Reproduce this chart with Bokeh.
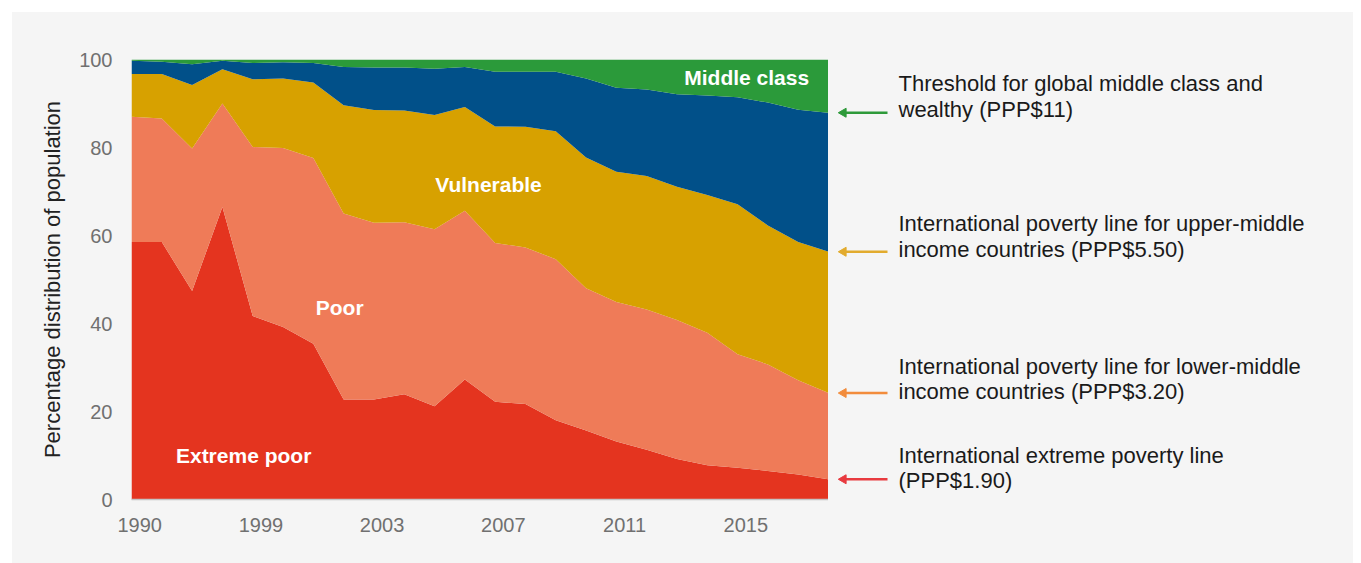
import math
from bokeh.plotting import figure
from bokeh.layouts import row
from bokeh.models import (ColumnDataSource, Range1d, FixedTicker, CustomJSTickFormatter, Label)
from bokeh.embed import file_html
from bokeh.resources import INLINE

# ---------------- data ----------------
years = [1990, 1993, 1996, 1998, 1999, 2000, 2001, 2002, 2003, 2004, 2005, 2006,
         2007, 2008, 2009, 2010, 2011, 2012, 2013, 2014, 2015, 2016, 2017, 2018]
labeled_years = [1990, 1999, 2003, 2007, 2011, 2015]

extreme_poor = [58.5, 58.5, 47.4, 66.5, 41.7, 39.2, 35.4, 22.7, 22.7, 23.9, 21.2, 27.3,
                22.2, 21.7, 18.0, 15.7, 13.2, 11.3, 9.2, 7.8, 7.2, 6.5, 5.7, 4.6]
poor = [28.5, 28.1, 32.4, 23.5, 38.4, 40.7, 42.2, 42.3, 40.2, 39.1, 40.2, 38.3,
        36.1, 35.6, 36.6, 32.3, 31.7, 31.9, 31.6, 30.1, 25.8, 24.2, 21.4, 19.6]
vulnerable = [9.7, 10.1, 14.4, 7.8, 15.4, 15.8, 17.2, 24.6, 25.6, 25.4, 26.0, 23.6,
              26.5, 27.4, 29.1, 29.7, 29.6, 30.3, 30.3, 31.3, 34.1, 31.6, 31.4, 32.1]
secure = [3.0, 2.8, 4.7, 1.9, 3.7, 3.7, 4.4, 8.7, 9.7, 9.8, 10.5, 9.1,
          12.4, 12.5, 13.5, 18.0, 19.1, 19.7, 21.0, 22.6, 24.3, 27.9, 30.1, 31.6]
middle_class = [0.3, 0.5, 1.1, 0.3, 0.8, 0.6, 0.8, 1.7, 1.8, 1.8, 2.1, 1.7,
                2.8, 2.8, 2.8, 4.3, 6.4, 6.8, 7.9, 8.2, 8.6, 9.8, 11.4, 12.1]

series_names = ["extreme_poor", "poor", "vulnerable", "secure", "middle_class"]
series_colors = ["#e4341f", "#ef7b58", "#d7a100", "#015089", "#2b9a3a"]

threshold_texts = [
    ["Threshold for global middle class and", "wealthy (PPP$11)"],
    ["International poverty line for upper-middle", "income countries (PPP$5.50)"],
    ["International poverty line for lower-middle", "income countries (PPP$3.20)"],
    ["International extreme poverty line", "(PPP$1.90)"],
]
arrow_colors = ["#2e9a3a", "#e2ab2e", "#f28c3c", "#e83a3f"]

# ---------------- layout constants ----------------
BG = "#f5f5f5"
FONT = "Liberation Sans"
TOP, FRAME_H, BOTTOM = 47, 440, 64
LEFT, FRAME_W = 119, 697
RIGHT_W = 525

# ---------------- main chart ----------------
source = ColumnDataSource(dict(
    x=list(range(len(years))),
    extreme_poor=extreme_poor, poor=poor, vulnerable=vulnerable,
    secure=secure, middle_class=middle_class,
))

p = figure(width=LEFT + FRAME_W, height=TOP + FRAME_H + BOTTOM,
           output_backend="svg", toolbar_location=None,
           x_range=Range1d(0, len(years) - 1), y_range=Range1d(0, 100),
           min_border_left=LEFT, min_border_right=0, min_border_top=TOP,
           min_border_bottom=BOTTOM)
p.background_fill_color = BG
p.border_fill_color = BG
p.outline_line_color = None
p.xgrid.visible = False
p.ygrid.visible = False

p.varea_stack(stackers=series_names, x="x", color=series_colors, source=source)

# x axis (labels sit slightly right of their data point, as in the original)
offset = 0.27
p.xaxis.ticker = FixedTicker(ticks=[years.index(y) + offset for y in labeled_years])
p.xaxis.formatter = CustomJSTickFormatter(args=dict(years=years, off=offset), code="""
    const i = Math.round(tick - off);
    return String(years[i]);
""")
p.xaxis.axis_line_color = "#c4c4c4"
p.xaxis.axis_line_width = 1.5
p.xaxis.major_tick_line_color = None
p.xaxis.minor_tick_line_color = None
p.xaxis.major_label_text_font = FONT
p.xaxis.major_label_text_font_size = "20px"
p.xaxis.major_label_text_color = "#707070"
p.xaxis.major_label_standoff = 12

# y axis
p.yaxis.ticker = FixedTicker(ticks=[0, 20, 40, 60, 80, 100])
p.yaxis.axis_line_color = None
p.yaxis.major_tick_line_color = None
p.yaxis.minor_tick_line_color = None
p.yaxis.major_label_text_font = FONT
p.yaxis.major_label_text_font_size = "20px"
p.yaxis.major_label_text_color = "#707070"
p.yaxis.major_label_standoff = 13
p.yaxis.axis_label = "Percentage distribution of population"
p.yaxis.axis_label_text_font = FONT
p.yaxis.axis_label_text_font_size = "22px"
p.yaxis.axis_label_text_font_style = "normal"
p.yaxis.axis_label_text_color = "#222222"
p.yaxis.axis_label_standoff = 11

# in-chart labels
inner = [("Extreme poor", 3.7, 10.1), ("Poor", 6.87, 43.7),
         ("Vulnerable", 11.78, 71.7), ("Middle class", 20.3, 96.0)]
for txt, xx, yy in inner:
    p.add_layout(Label(x=xx, y=yy, text=txt, text_color="white", text_font=FONT,
                       text_font_style="bold", text_font_size="21px",
                       text_align="center", text_baseline="middle"))

# ---------------- right-hand threshold annotations ----------------
last = len(years) - 1
cum = 0.0
bounds = []
for s in [extreme_poor, poor, vulnerable, secure]:
    cum += s[last]
    bounds.append(cum)
bounds = bounds[::-1]  # PPP$11, PPP$5.50, PPP$3.20, PPP$1.90

q = figure(width=RIGHT_W, height=TOP + FRAME_H + BOTTOM,
           output_backend="svg", toolbar_location=None,
           x_range=Range1d(0, RIGHT_W), y_range=Range1d(0, 100),
           min_border_left=0, min_border_right=0, min_border_top=TOP,
           min_border_bottom=BOTTOM)
q.background_fill_color = BG
q.border_fill_color = BG
q.outline_line_color = None
q.axis.visible = False
q.xgrid.visible = False
q.ygrid.visible = False

# arrows: shaft + head
q.segment(x0=[59] * 4, x1=[17] * 4, y0=bounds, y1=bounds,
          line_color=arrow_colors, line_width=2.5)
q.scatter(x=[15] * 4, y=bounds, marker="triangle", size=9, angle=math.pi / 2,
          fill_color=arrow_colors, line_color=arrow_colors)

line_offsets = [(-29, -3), (-28, -2), (-27, -2), (-24, 1)]
tx, ty, tt, toff = [], [], [], []
for lines, b, offs in zip(threshold_texts, bounds, line_offsets):
    for line, dy in zip(lines, offs):
        tx.append(70)
        ty.append(b)
        tt.append(line)
        toff.append(dy)
q.text(x=tx, y=ty, text=tt, y_offset=toff, text_font_size="22px",
       text_color="#1a1a1a", text_align="left", text_baseline="middle",
       text_font={"value": FONT})

layout = row(p, q, margin=(12, 0, 0, 12), spacing=0,
             styles={"background-color": BG})

with open("out.html", "w") as f:
    f.write(file_html(layout, INLINE))
